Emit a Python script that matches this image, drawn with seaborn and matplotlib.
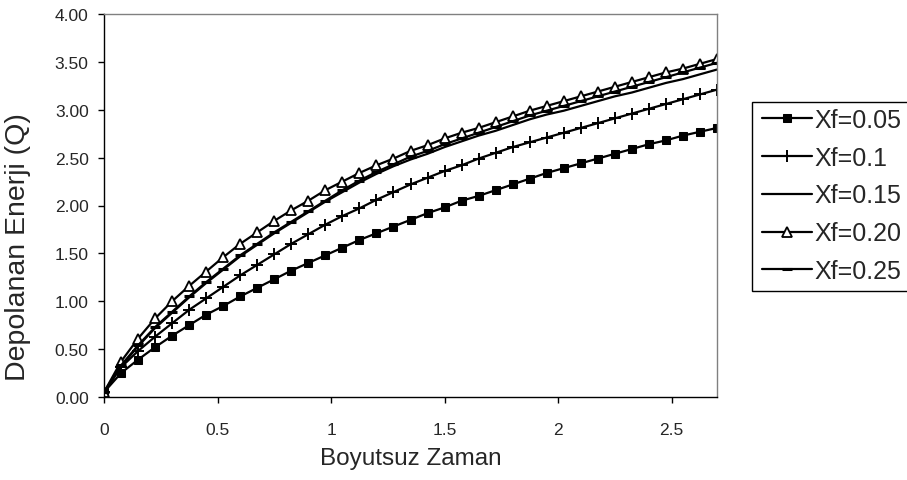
import matplotlib
matplotlib.use("Agg")
import matplotlib.pyplot as plt
import matplotlib.patches as mpatches
import seaborn as sns
import pandas as pd

time = [0.0, 0.075, 0.15, 0.225, 0.3, 0.375, 0.45, 0.525, 0.6, 0.675,
        0.75, 0.825, 0.9, 0.975, 1.05, 1.125, 1.2, 1.275, 1.35, 1.425,
        1.5, 1.575, 1.65, 1.725, 1.8, 1.875, 1.95, 2.025, 2.1, 2.175,
        2.25, 2.325, 2.4, 2.475, 2.55, 2.625, 2.7]

q_005 = [0.05, 0.25, 0.39, 0.52, 0.64, 0.75, 0.86, 0.95, 1.05, 1.14,
         1.23, 1.32, 1.40, 1.48, 1.56, 1.64, 1.71, 1.78, 1.85, 1.92,
         1.98, 2.05, 2.10, 2.16, 2.22, 2.28, 2.34, 2.39, 2.44, 2.49,
         2.54, 2.59, 2.64, 2.68, 2.73, 2.77, 2.81]
q_010 = [0.05, 0.31, 0.48, 0.63, 0.77, 0.91, 1.03, 1.15, 1.27, 1.38,
         1.49, 1.60, 1.70, 1.80, 1.89, 1.97, 2.06, 2.14, 2.22, 2.29,
         2.36, 2.42, 2.49, 2.55, 2.61, 2.66, 2.71, 2.76, 2.81, 2.86,
         2.91, 2.96, 3.01, 3.06, 3.11, 3.16, 3.21]
q_015 = [0.05, 0.32, 0.53, 0.72, 0.88, 1.04, 1.19, 1.33, 1.47, 1.59,
         1.71, 1.82, 1.93, 2.04, 2.14, 2.24, 2.33, 2.41, 2.48, 2.54,
         2.61, 2.67, 2.73, 2.78, 2.84, 2.90, 2.95, 2.99, 3.04, 3.09,
         3.14, 3.18, 3.23, 3.28, 3.32, 3.37, 3.42]
q_020 = [0.05, 0.37, 0.61, 0.82, 1.00, 1.16, 1.31, 1.46, 1.60, 1.72,
         1.84, 1.95, 2.05, 2.16, 2.25, 2.34, 2.42, 2.49, 2.57, 2.63,
         2.70, 2.76, 2.81, 2.87, 2.93, 2.99, 3.04, 3.09, 3.14, 3.19,
         3.24, 3.29, 3.34, 3.39, 3.43, 3.48, 3.53]
q_025 = [0.05, 0.33, 0.54, 0.73, 0.89, 1.05, 1.20, 1.34, 1.48, 1.60,
         1.72, 1.83, 1.94, 2.05, 2.16, 2.26, 2.35, 2.43, 2.51, 2.57,
         2.64, 2.70, 2.76, 2.82, 2.88, 2.94, 2.99, 3.04, 3.09, 3.14,
         3.19, 3.24, 3.29, 3.34, 3.39, 3.44, 3.49]

series_labels = ["Xf=0.05", "Xf=0.1", "Xf=0.15", "Xf=0.20", "Xf=0.25"]
series_values = [q_005, q_010, q_015, q_020, q_025]

x_ticks = [0, 0.5, 1, 1.5, 2, 2.5]
x_tick_labels = ["0", "0.5", "1", "1.5", "2", "2.5"]
y_ticks = [0.0, 0.5, 1.0, 1.5, 2.0, 2.5, 3.0, 3.5, 4.0]
y_tick_labels = ["0.00", "0.50", "1.00", "1.50", "2.00", "2.50", "3.00", "3.50", "4.00"]

sns.set_theme(style="white")
plt.rcParams["font.family"] = ["Liberation Sans", "DejaVu Sans"]

W, H = 907, 481
fig = plt.figure(figsize=(W / 100, H / 100), dpi=100)
ax = fig.add_axes([104 / W, 1 - 398 / H, (717 - 104) / W, (398 - 15) / H])

styles = [
    dict(marker="s", markersize=6, markerfacecolor="black", markeredgecolor="black"),
    dict(marker="+", markersize=8, markeredgewidth=1.4, markeredgecolor="black"),
    dict(marker=None),
    dict(marker="^", markersize=7.5, markerfacecolor="white", markeredgecolor="black", markeredgewidth=1.3),
    dict(marker="_", markersize=7, markeredgewidth=2.2, markeredgecolor="black"),
]

frames = []
for lab, vals in zip(series_labels, series_values):
    frames.append(pd.DataFrame({"t": time, "q": vals, "series": lab}))
df = pd.concat(frames, ignore_index=True)

handles = []
for lab, st in zip(series_labels, styles):
    sub = df[df["series"] == lab]
    sns.lineplot(data=sub, x="t", y="q", ax=ax, color="black", linewidth=1.6,
                 label=lab, legend=False, sort=False, errorbar=None, **st)
    handles.append(ax.lines[-1])

ax.set_xlim(0, 2.7)
ax.set_ylim(0, 4.0)
ax.set_xticks(x_ticks)
ax.set_xticklabels(x_tick_labels)
ax.set_yticks(y_ticks)
ax.set_yticklabels(y_tick_labels)
ax.tick_params(axis="both", which="major", direction="out", length=4, width=1,
               color="black", labelsize=12.5, left=True, bottom=True)
ax.tick_params(axis="x", pad=14)
ax.tick_params(axis="y", pad=7)
ax.set_xlabel("Boyutsuz Zaman", fontsize=17.5, labelpad=7)
ax.set_ylabel("Depolanan Enerji (Q)", fontsize=20.5)
ax.yaxis.set_label_coords((31 - 104) / 613, (398 - 247) / 383)

for side in ["left", "bottom"]:
    ax.spines[side].set_color("black")
    ax.spines[side].set_linewidth(1.0)
for side in ["top", "right"]:
    ax.spines[side].set_color("#808080")
    ax.spines[side].set_linewidth(1.0)
ax.grid(False)

# legend box (extends past the right edge as in the reference)
box = mpatches.Rectangle((752 / W, 1 - 292 / H), (915 - 752) / W, (292 - 103) / H,
                         transform=fig.transFigure, facecolor="white",
                         edgecolor="black", linewidth=1.0, zorder=1)
fig.patches.append(box)

leg = fig.legend(handles=handles, labels=series_labels, loc="upper left",
                 bbox_to_anchor=(762 / W, 1 - 109 / H), fontsize=18,
                 frameon=False, handlelength=2.0, handletextpad=0.1,
                 labelspacing=0.55, borderpad=0.0, borderaxespad=0)
leg.set_zorder(2)

fig.savefig("out.png", dpi=100)
